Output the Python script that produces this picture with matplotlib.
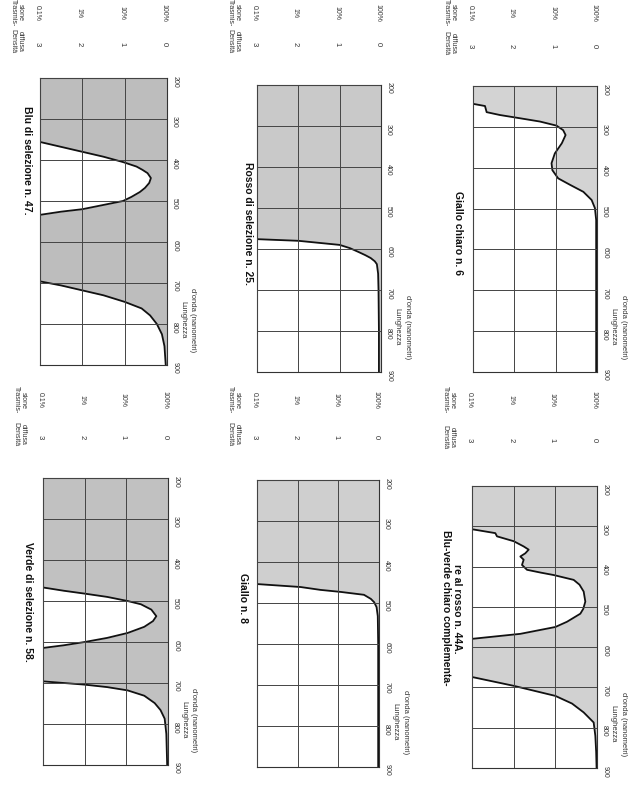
import numpy as np
import matplotlib
matplotlib.use('Agg')
import matplotlib.pyplot as plt
import matplotlib.transforms as mtransforms

plt.rcParams['font.family'] = ['Liberation Sans', 'DejaVu Sans']

W, H = 643, 788

# wavelength (nm) and diffuse density; 4.0 = above the top of the scale
blu47_nm = [200, 340, 356, 368, 380, 392, 405, 416, 424, 432, 444, 456, 468, 478, 490, 500, 510, 520, 526, 533, 550,
            680, 696, 706, 718, 730, 746, 762, 779, 800, 825, 854, 900]
blu47_d = [4, 4, 3.0, 2.5, 2.0, 1.5, 1.04, 0.72, 0.58, 0.46, 0.38, 0.42, 0.52, 0.64, 0.84, 1.04, 1.52, 2.0, 2.5, 2.95, 4,
           4, 3.0, 2.5, 2.0, 1.5, 1.0, 0.6, 0.4, 0.24, 0.12, 0.06, 0.03]

rosso25_nm = [200, 560, 576, 580, 585, 590, 598, 607, 615, 622, 630, 637, 660, 700, 800, 900]
rosso25_d = [4, 4, 3.0, 2.0, 1.5, 1.0, 0.75, 0.55, 0.38, 0.25, 0.15, 0.1, 0.07, 0.06, 0.05, 0.05]

giallochiaro6_nm = [200, 238, 244, 249, 264, 271, 279, 287, 297, 308, 320, 340, 365, 389, 406, 426, 442, 459, 479,
                    499, 528, 600, 700, 800, 900]
giallochiaro6_d = [4, 4, 2.98, 2.71, 2.67, 2.35, 1.86, 1.38, 0.98, 0.82, 0.76, 0.85, 1.02, 1.1, 1.08, 0.94, 0.65,
                   0.33, 0.13, 0.05, 0.02, 0.02, 0.02, 0.02, 0.02]

verde58_nm = [200, 450, 467, 475, 482, 490, 500, 508, 521, 537, 549, 563, 578, 590, 600, 608, 614, 630,
              680, 696, 700, 704, 710, 718, 731, 749, 766, 787, 824, 900]
verde58_d = [4, 4, 3.0, 2.5, 2.0, 1.46, 0.97, 0.65, 0.4, 0.28, 0.36, 0.57, 0.97, 1.46, 2.0, 2.5, 2.96, 4,
             4, 3.0, 2.5, 2.0, 1.46, 0.97, 0.57, 0.32, 0.18, 0.08, 0.04, 0.02]

giallo8_nm = [200, 440, 454, 461, 468, 473, 480, 490, 498, 510, 532, 600, 700, 800, 900]
giallo8_d = [4, 4, 2.97, 1.93, 1.44, 0.94, 0.37, 0.2, 0.12, 0.06, 0.03, 0.02, 0.02, 0.02, 0.02]

bluverde44a_nm = [200, 300, 308, 317, 325, 337, 350, 358, 367, 375, 383, 396, 408, 415, 421, 433, 445, 462, 487, 505,
                  517, 537, 550, 567, 579, 590, 660, 675, 696, 721, 740, 762, 787, 820, 860, 900]
bluverde44a_d = [4, 4, 2.96, 2.44, 2.4, 2.0, 1.76, 1.64, 1.72, 1.84, 1.76, 1.8, 1.68, 1.35, 1.04, 0.56, 0.42, 0.32,
                 0.28, 0.33, 0.4, 0.72, 1.0, 1.84, 2.96, 4, 4, 2.96, 2.0, 1.0, 0.6, 0.32, 0.08, 0.04, 0.02, 0.01]

titles = [['Blu di selezione n. 47.'], ['Rosso di selezione n. 25.'], ['Giallo chiaro n. 6'],
          ['Verde di selezione n. 58.'], ['Giallo n. 8'],
          ['Blu-verde chiaro complementa-', 're al rosso n. 44A.']]

density_ticks = [3, 2, 1, 0]
trans_labels = ['0.1%', '1%', '10%', '100%']
nm_ticks = [200, 300, 400, 500, 600, 700, 800, 900]

series = [(blu47_nm, blu47_d), (rosso25_nm, rosso25_d), (giallochiaro6_nm, giallochiaro6_d),
          (verde58_nm, verde58_d), (giallo8_nm, giallo8_d), (bluverde44a_nm, bluverde44a_d)]

# layout in pixels: box (left, top, right, bottom), title centre(s), label rows, shade
boxes = [(40, 78, 167, 365), (257, 85, 381, 372), (473, 86, 597, 372),
         (43, 478, 168, 765), (257, 480, 379, 767), (472, 486, 597, 768)]
title_pos = [[(27, 160)], [(248, 224)], [(458, 233)],
             [(28, 602)], [(243, 598)], [(446, 608), (457, 609)]]
rows = [(13, 44), (13, 44), (13, 46), (400, 437), (400, 437), (400, 440)]
shades = ['#bdbdbd', '#c9c9c9', '#d3d3d3', '#c1c1c1', '#cfcfcf', '#d1d1d1']

fig = plt.figure(figsize=(W / 100, H / 100), dpi=100)
fig.patch.set_facecolor('white')


def ftext(x, y, s, **kw):
    fig.text(x / W, 1 - y / H, s, rotation=-90, ha='center', va='center', **kw)


for i, (nm, d) in enumerate(series):
    l, t, r, b = boxes[i]
    ax = fig.add_axes([l / W, 1 - b / H, (r - l) / W, (b - t) / H])
    ax.set_xlim(3, 0)
    ax.set_ylim(900, 200)
    ax.fill_betweenx(nm, 0, d, color=shades[i], lw=0)
    ax.plot(d, nm, color='#111111', lw=1.3)
    ax.set_xticks(density_ticks)
    ax.set_yticks(nm_ticks)
    ax.grid(True, color='#444444', lw=0.7)
    ax.set_axisbelow(False)
    ax.xaxis.set_ticklabels([])
    ax.tick_params(axis='x', length=0)
    ax.yaxis.tick_right()
    ax.tick_params(axis='y', length=0, pad=3, labelsize=5, labelrotation=-90, colors='#333333')
    for sp in ax.spines.values():
        sp.set_color('#333333')
        sp.set_linewidth(0.8)

    # transmission / density table above the box
    tr = mtransforms.blended_transform_factory(ax.transData, ax.transAxes)
    y1 = (b - rows[i][0]) / (b - t)
    y2 = (b - rows[i][1]) / (b - t)
    for dv, pl in zip(density_ticks, trans_labels):
        ax.text(dv + 0.07, y1, pl, transform=tr, rotation=-90, ha='center', va='center',
                fontsize=5, color='#333333')
        ax.text(dv + 0.07, y2, str(dv), transform=tr, rotation=-90, ha='center', va='center',
                fontsize=5.5, color='#333333')
    ftext(l - 27, rows[i][0], 'Trasmis-', fontsize=5, color='#333333')
    ftext(l - 20, rows[i][0], 'sione', fontsize=5, color='#333333')
    ftext(l - 27, rows[i][1] - 3, 'Densità', fontsize=5, color='#333333')
    ftext(l - 20, rows[i][1] - 3, 'diffusa', fontsize=5, color='#333333')

    # wavelength axis name
    base = mtransforms.blended_transform_factory(ax.transAxes, ax.transData)
    for dx, s in [(16, 'Lunghezza'), (26, "d'onda (nanometri)")]:
        ax.text(1, 790, s, transform=mtransforms.offset_copy(base, fig=fig, x=dx, y=0, units='dots'),
                rotation=-90, ha='center', va='center', fontsize=5.5, color='#333333')

    for (tx, ty), s in zip(title_pos[i], titles[i]):
        ftext(tx, ty, s, fontsize=7.5, fontweight='bold', color='#111111')

fig.savefig('out.png', dpi=100, facecolor='white')
